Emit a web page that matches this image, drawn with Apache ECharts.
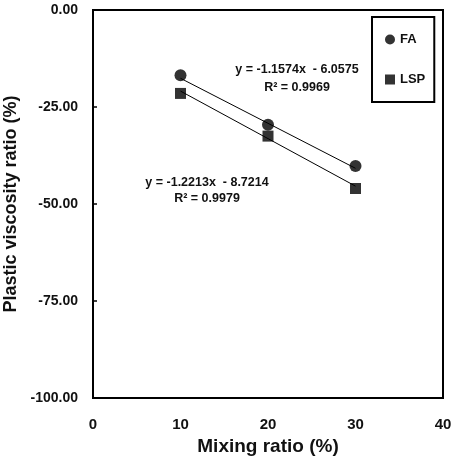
<!DOCTYPE html>
<html>
<head>
<meta charset="utf-8">
<script src="https://cdn.jsdelivr.net/npm/echarts@6/dist/echarts.min.js"></script>
<style>html,body{margin:0;padding:0;background:#fff;}#c{width:453px;height:464px;}</style>
</head>
<body>
<div id="c"></div>
<script>
const mixing = [10, 20, 30];
const faValues = [-16.8, -29.6, -40.2];
const lspValues = [-21.5, -32.5, -46.0];
const trendX = [10, 30];
const faTrend = [-17.6, -40.8];
const lspTrend = [-20.9, -45.4];
const faEq = ['y = -1.1574x  - 6.0575', 'R² = 0.9969'];
const lspEq = ['y = -1.2213x  - 8.7214', 'R² = 0.9979'];

const font = '"Liberation Sans", Arial, sans-serif';
const chart = echarts.init(document.getElementById('c'));
const pairs = (xs, ys) => xs.map((x, i) => [x, ys[i]]);

chart.setOption({
  animation: false,
  backgroundColor: '#fff',
  grid: { left: 93, top: 10, right: 10, bottom: 66, show: true, borderColor: '#000', borderWidth: 2,
    containLabel: false, outerBoundsMode: 'none' },
  xAxis: {
    type: 'value', min: 0, max: 40, interval: 10,
    name: 'Mixing ratio (%)', nameLocation: 'middle', nameGap: 38,
    nameTextStyle: { fontFamily: font, fontWeight: 'bold', fontSize: 19, color: '#111' },
    axisLine: { show: true, lineStyle: { color: '#000', width: 2 } },
    axisTick: { show: false },
    splitLine: { show: false },
    axisLabel: { fontFamily: font, fontWeight: 'bold', fontSize: 15, color: '#111', margin: 19 }
  },
  yAxis: {
    type: 'value', min: -100, max: 0, interval: 25,
    name: 'Plastic viscosity ratio (%)', nameLocation: 'middle', nameGap: 71,
    nameTextStyle: { fontFamily: font, fontWeight: 'bold', fontSize: 18, color: '#111' },
    axisLine: { show: true, lineStyle: { color: '#000', width: 2 } },
    axisTick: { show: true, inside: true, length: 4, lineStyle: { color: '#000', width: 1.5 } },
    splitLine: { show: false },
    axisLabel: { fontFamily: font, fontWeight: 'bold', fontSize: 14, color: '#111', margin: 15,
      formatter: v => v.toFixed(2) }
  },
  legend: {
    orient: 'vertical', left: 372, top: 17,
    padding: [16, 9, 16, 13], itemGap: 27,
    borderColor: '#000', borderWidth: 2,
    itemWidth: 10, itemHeight: 10,
    textStyle: { fontFamily: font, fontWeight: 'bold', fontSize: 13, color: '#111' },
    data: [{ name: 'FA', icon: 'circle' }, { name: 'LSP', icon: 'rect' }]
  },
  series: [
    { type: 'line', data: pairs(trendX, faTrend), symbol: 'none', lineStyle: { color: '#000', width: 1 }, silent: true, z: 1 },
    { type: 'line', data: pairs(trendX, lspTrend), symbol: 'none', lineStyle: { color: '#000', width: 1 }, silent: true, z: 1 },
    { name: 'FA', type: 'scatter', data: pairs(mixing, faValues), symbol: 'circle', symbolSize: 12, itemStyle: { color: '#000' }, z: 3 },
    { name: 'LSP', type: 'scatter', data: pairs(mixing, lspValues), symbol: 'rect', symbolSize: 11, itemStyle: { color: '#000' }, z: 3 }
  ],
  graphic: [
    { type: 'text', x: 297, y: 70, style: { text: faEq[0], fontFamily: font, fontWeight: 'bold', fontSize: 12.5, fill: '#111', align: 'center', verticalAlign: 'middle' } },
    { type: 'text', x: 297, y: 88, style: { text: faEq[1], fontFamily: font, fontWeight: 'bold', fontSize: 12.5, fill: '#111', align: 'center', verticalAlign: 'middle' } },
    { type: 'text', x: 207, y: 183, style: { text: lspEq[0], fontFamily: font, fontWeight: 'bold', fontSize: 12.5, fill: '#111', align: 'center', verticalAlign: 'middle' } },
    { type: 'text', x: 207, y: 199, style: { text: lspEq[1], fontFamily: font, fontWeight: 'bold', fontSize: 12.5, fill: '#111', align: 'center', verticalAlign: 'middle' } }
  ]
});
</script>
</body>
</html>
